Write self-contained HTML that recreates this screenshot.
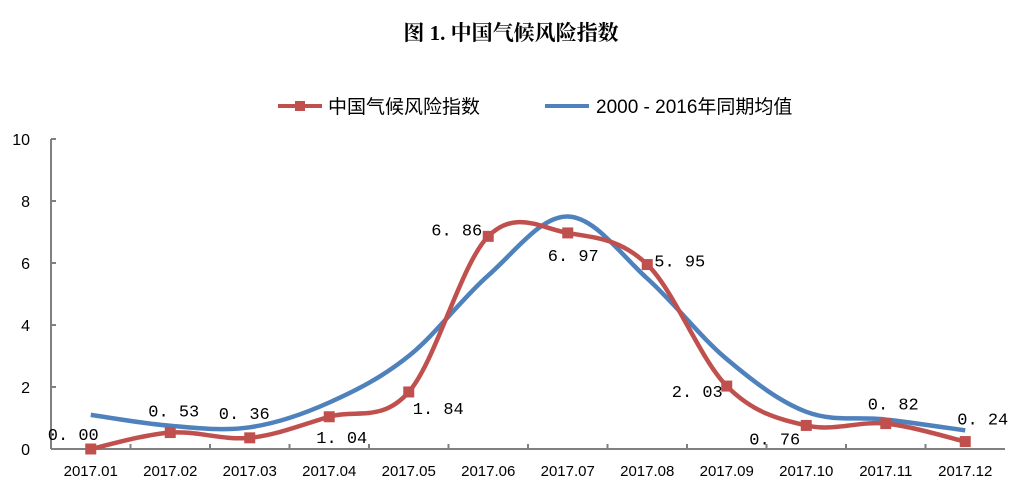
<!DOCTYPE html>
<html><head><meta charset="utf-8"><style>
body{margin:0;background:#fff;width:1022px;height:485px;overflow:hidden}
svg text{font-family:"Liberation Sans","Noto Sans CJK SC",sans-serif}
svg text.mono{font-family:"Liberation Mono",monospace}
svg text.serif{font-family:"Liberation Serif","Noto Serif CJK SC",serif}
</style></head><body>
<svg id="chart" width="1022" height="485">
<text class="serif" x="511" y="40" text-anchor="middle" font-size="21" font-weight="bold">图 1.  中国气候风险指数</text>
<g>
<g><line x1="278" y1="106" x2="322" y2="106" stroke="#C0504D" stroke-width="4"/><rect x="295" y="101" width="10" height="10" fill="#C0504D"/><text x="328" y="113" font-size="19">中国气候风险指数</text></g>
<g><line x1="545" y1="106" x2="589" y2="106" stroke="#4F81BD" stroke-width="4"/><text x="596" y="113" font-size="19">2000 - 2016年同期均值</text></g>
</g>
<g id="axes"></g>
<g id="series"></g>
</svg>
<script>
const categories=["2017.01","2017.02","2017.03","2017.04","2017.05","2017.06","2017.07","2017.08","2017.09","2017.10","2017.11","2017.12"];
const riskValues=[0.00,0.53,0.36,1.04,1.84,6.86,6.97,5.95,2.03,0.76,0.82,0.24];
const baselineValues=[1.1,0.75,0.7,1.5,3.0,5.6,7.5,5.5,2.9,1.2,0.95,0.6];
const yTicks=[0,2,4,6,8,10];
const labelDx=[-43,-22,-31,-13,4,-57,-20,7,-55,-57,-18,-8];
const labelDy=[-9,-16,-19,26,22,-1,28,2,11,19,-14,-17];
const NS="http://www.w3.org/2000/svg";
const x0=51,x1=1005,yb=449,yt=139;
const bw=(x1-x0)/categories.length;
const xs=i=>x0+bw*(i+0.5);
const ys=v=>yb-(v/10)*(yb-yt);
function mk(tag,attrs,parent){const e=document.createElementNS(NS,tag);for(const k in attrs)e.setAttribute(k,attrs[k]);parent.appendChild(e);return e;}
const ax=document.getElementById('axes'),se=document.getElementById('series');
let e=mk('line',{x1:x0,y1:yt,x2:x0,y2:yb,stroke:'#808080','stroke-width':2},ax);


e=mk('line',{x1:x0,y1:yb,x2:x1,y2:yb,stroke:'#808080','stroke-width':2},ax);


yTicks.forEach(t=>{
 mk('line',{x1:x0,y1:ys(t),x2:x0+5,y2:ys(t),stroke:'#808080','stroke-width':2},ax);
 const tx=mk('text',{x:30,y:ys(t)+6,'text-anchor':'end','font-size':16},ax);tx.textContent=t;
 
 
});
categories.forEach((c,i)=>{
 if(i>0)mk('line',{x1:x0+bw*i,y1:yb,x2:x0+bw*i,y2:yb-5,stroke:'#808080','stroke-width':2},ax);
 const tx=mk('text',{x:xs(i),y:476,'text-anchor':'middle','font-size':15},ax);tx.textContent=c;
 
 
});
function smooth(vals){
 const p=vals.map((v,i)=>[xs(i),ys(v)]);let d=`M${p[0][0]},${p[0][1]}`;
 for(let i=0;i<p.length-1;i++){const a=p[Math.max(0,i-1)],b=p[i],c=p[i+1],q=p[Math.min(p.length-1,i+2)];
 const t=0.17;d+=` C${b[0]+(c[0]-a[0])*t},${b[1]+(c[1]-a[1])*t} ${c[0]-(q[0]-b[0])*t},${c[1]-(q[1]-b[1])*t} ${c[0]},${c[1]}`;}
 return d;}
e=mk('path',{d:smooth(baselineValues),fill:'none',stroke:'#4F81BD','stroke-width':4.5},se);


e=mk('path',{d:smooth(riskValues),fill:'none',stroke:'#C0504D','stroke-width':4.5},se);


riskValues.forEach((v,i)=>{
 const r=mk('rect',{x:xs(i)-5.5,y:ys(v)-5.5,width:11,height:11,fill:'#C0504D'},se);
 
 
 const t=mk('text',{class:'mono',x:xs(i)+labelDx[i],y:ys(v)+labelDy[i],'font-size':17},se);
 t.textContent=v.toFixed(2).replace('.','. ');
 
 
});
</script>
</body></html>
